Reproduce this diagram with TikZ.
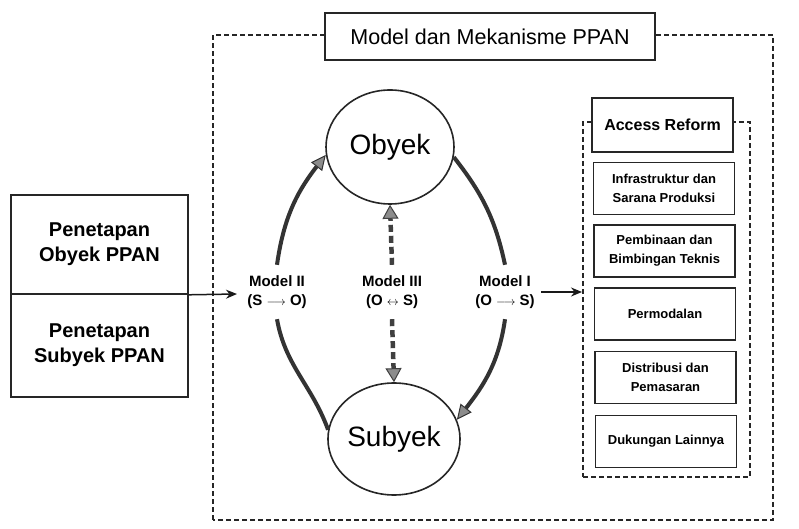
\documentclass[tikz,border=0pt]{standalone}
\usepackage{fontspec}
\setmainfont{Liberation Sans}
\usetikzlibrary{arrows.meta,shapes.geometric}
\begin{document}
\begin{tikzpicture}[x=1pt,y=1pt,
  ink/.style={draw=black!85, line width=1.6pt},
  dashbox/.style={draw=black!85, line width=2pt, dash pattern=on 5pt off 3pt},
  leftbox/.style={ink, fill=white, minimum width=177pt, align=center, font=\fontsize{20}{25}\selectfont\bfseries, inner sep=0pt},
  rbox/.style={ink, fill=white, minimum width=141pt, minimum height=52pt, align=center, font=\fontsize{13}{19}\selectfont\bfseries, inner sep=0pt},
  circ/.style={ellipse, draw=black!85, line width=1.6pt, fill=white, minimum width=128pt, minimum height=114pt, inner sep=0pt, font=\fontsize{28}{30}\selectfont},
  mlabel/.style={align=center, font=\fontsize{15}{19}\selectfont\bfseries, inner sep=0pt, minimum height=54pt, minimum width=60pt},
  arcline/.style={draw=black!80, line width=4pt},
  arcarrow/.style={arcline, -{Triangle[length=15pt,width=14pt,line width=1pt,fill=black!45]}},
  dasharrow/.style={draw=black!75, line width=4.5pt, dash pattern=on 7pt off 4pt, -{Triangle[length=14pt,width=16pt,line width=1pt,fill=black!45]}},
  thinarrow/.style={draw=black!90, line width=1.5pt, -{Stealth[length=11pt,width=9pt]}}
]
\useasboundingbox (0,0) rectangle (799,529);
% outer dashed frame
\draw[dashbox] (213,9) rectangle (773,494);
\node[ink, fill=white, minimum width=330pt, minimum height=47pt, inner sep=0pt, font=\fontsize{21.5}{24}\selectfont] (title) at (490,492.5) {Model dan Mekanisme PPAN};

% left boxes
\node[leftbox, minimum height=99pt] (box1) at (99.5,284.5) {Penetapan\\Obyek PPAN};
\node[leftbox, minimum height=103pt] (box2) at (99.5,183.5) {Penetapan\\Subyek PPAN};

% circles
\node[circ] (ob) at (390,382) {Obyek};
\node[circ, minimum height=112pt] (sub) at (394,90) {Subyek};

% model labels
\node[mlabel] (m2) at (277,237) {Model II\\(S {\fontsize{12}{12}\selectfont$\longrightarrow$} O)};
\node[mlabel] (m3) at (392,237) {Model III\\(O {\fontsize{12}{12}\selectfont$\leftrightarrow$} S)};
\node[mlabel] (m1) at (505,237) {Model I\\(O {\fontsize{12}{12}\selectfont$\longrightarrow$} S)};

% inner dashed frame with boxes
\node[dashbox, minimum width=167pt, minimum height=355pt, inner sep=0pt] (inner) at (666.5,229.5) {};
\node[rbox, minimum height=54pt, font=\fontsize{16}{19}\selectfont\bfseries] (ar) at (662.5,404) {Access Reform};
\node[rbox] (b1) at (664,340.5) {Infrastruktur dan\\Sarana Produksi};
\node[rbox] (b2) at (664.5,278) {Pembinaan dan\\Bimbingan Teknis};
\node[rbox] (b3) at (665,215) {Permodalan};
\node[rbox] (b4) at (665.5,151.5) {Distribusi dan\\Pemasaran};
\node[rbox] (b5) at (666,87.5) {Dukungan Lainnya};

% Model II arc (S -> O)
\draw[arcline] (sub.172) to[out=110,in=280] (m2.south);
\draw[arcarrow] (m2.north) to[out=82,in=232] (ob.187);
% Model I arc (O -> S)
\draw[arcline] (ob.-9) to[out=-52,in=102] (m1.north);
\draw[arcarrow] (m1.south) to[out=-98,in=52] (sub.17);
% Model III dashed (O <-> S)
\draw[dasharrow] (m3.north) -- (ob.south);
\draw[dasharrow] (m3.south) -- (sub.north);

% input and output arrows
\coordinate (tipL) at (237,235);
\draw[thinarrow] (box1.south east) -- (tipL);
\draw[thinarrow, shorten <=6pt] (m1.east) -- (inner.west |- m1.east);
\end{tikzpicture}
\end{document}
